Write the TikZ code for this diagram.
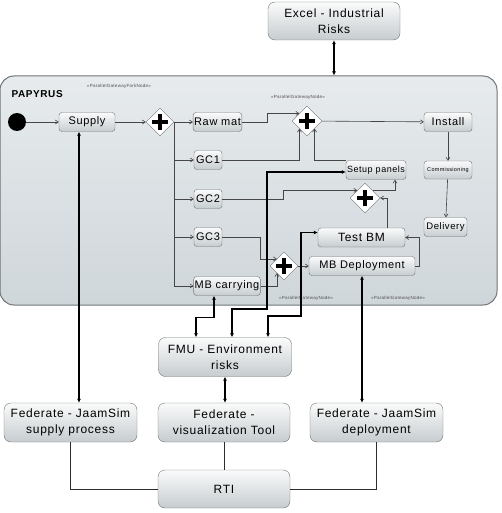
\documentclass[tikz,border=0pt]{standalone}
\usepackage{fontspec}
\setmainfont{Liberation Sans}[LetterSpace=6]
\usetikzlibrary{arrows.meta,shapes.geometric}

\definecolor{boxtop}{HTML}{FAFBFB}
\definecolor{boxbot}{HTML}{C6CCCF}
\definecolor{boxline}{HTML}{6E7478}
\definecolor{frametop}{HTML}{E7EBED}
\definecolor{framebot}{HTML}{CFD6DA}

\begin{document}
\begin{tikzpicture}[x=1pt, y=-1pt,
    act/.style={draw=boxline, rounded corners=3pt, top color=boxtop, bottom color=boxbot,
        minimum height=19pt, inner sep=1pt, font=\fontsize{11}{13}\selectfont},
    fed/.style={draw=boxline, rounded corners=7pt, top color=boxtop, bottom color=boxbot,
        minimum width=133pt, minimum height=39pt, align=center, font=\fontsize{12}{16}\selectfont},
    frame/.style={draw=boxline, line width=1pt, rounded corners=14pt, top color=frametop,
        bottom color=framebot, minimum width=497pt, minimum height=229pt},
    gate/.style={diamond, draw=boxline, fill=white, minimum size=#1, inner sep=0pt,
        path picture={\draw[black, line width=3.4pt]
            ([xshift=-8pt]path picture bounding box.center) -- ([xshift=8pt]path picture bounding box.center)
            ([yshift=-8pt]path picture bounding box.center) -- ([yshift=8pt]path picture bounding box.center);}},
    start/.style={circle, fill=black, minimum size=18pt, inner sep=0pt},
    flow/.style={draw=gray!55!black, line width=0.6pt, -{Straight Barb[length=3pt,width=4pt]}},
    link/.style={draw=black, line width=1.3pt, {Latex[length=4pt,width=4pt]}-{Latex[length=4pt,width=4pt]}},
    wire/.style={draw=gray!35!black, line width=0.6pt},
    stereo/.style={font=\fontsize{4.5}{5}\selectfont, text=gray!60!black, inner sep=0pt}]

    \useasboundingbox (0,0) rectangle (501,513);

    % Frame {papyrus}
    \node [frame]                       (papyrus) at (248.5,190.5) {};
    \node [anchor=west, font=\fontsize{10}{12}\selectfont\bfseries] (title) at (8,94) {PAPYRUS};

    % Nodes inside the frame
    \node [start]                       (init)     at (17,122)    {};
    \node [act, minimum width=56pt]     (supply)   at (87,122)    {Supply};
    \node [gate=28pt]                   (fork)     at (160,122)   {};
    \node [act, minimum width=47pt]     (rawmat)   at (217.5,122) {Raw mat};
    \node [act, minimum width=28pt]     (gc1)      at (208,160)   {GC1};
    \node [act, minimum width=28pt]     (gc2)      at (208,199)   {GC2};
    \node [act, minimum width=28pt]     (gc3)      at (208,237)   {GC3};
    \node [act, minimum width=66pt]     (mbcarry)  at (227,286)   {MB carrying};
    \node [gate=30pt]                   (joinA)    at (307,121)   {};
    \node [act, minimum width=58pt, font=\fontsize{9}{11}\selectfont] (setup) at (376,170) {Setup panels};
    \node [gate=30pt]                   (joinB)    at (365,198)   {};
    \node [act, minimum width=87pt, font=\fontsize{12}{14}\selectfont] (testbm) at (361.5,237.5) {Test BM};
    \node [gate=28pt]                   (joinC)    at (284,266)   {};
    \node [act, minimum width=106pt]    (mbdep)    at (362,266)   {MB Deployment};
    \node [act, minimum width=48pt]     (install)  at (448,122)   {Install};
    \node [act, minimum width=48pt, minimum height=18pt,
           font=\fontsize{5.5}{6}\selectfont] (commis) at (448,170) {Commissioning};
    \node [act, minimum width=43pt, font=\fontsize{9.5}{11}\selectfont] (delivery) at (445.5,227) {Delivery};

    % Stereotypes
    \node [stereo] (stA) at (119,86)  {«ParallelGatewayForkNode»};
    \node [stereo] (stB) at (298,97)  {«ParallelGatewayNode»};
    \node [stereo] (stC) at (306,298) {«ParallelGatewayNode»};
    \node [stereo] (stD) at (398,298) {«ParallelGatewayNode»};

    % Nodes outside the frame
    \node [fed, minimum width=132pt, minimum height=38pt] (excel) at (334,21) {Excel - Industrial\\Risks};
    \node [fed]                         (fmu)      at (225,357)   {FMU - Environment\\risks};
    \node [fed]                         (fedsup)   at (70.5,422.5) {Federate - JaamSim\\supply process};
    \node [fed, minimum width=132pt]    (fedvis)   at (224,422.5) {Federate -\\visualization Tool};
    \node [fed]                         (feddep)   at (376.5,422.5) {Federate - JaamSim\\deployment};
    \node [fed, minimum width=132pt, minimum height=38pt] (rti) at (224,489) {RTI};

    \coordinate (bendA) at (267,309);
    \coordinate (bendB) at (301,316);

    % Paths inside the frame
    \path [flow] (init)    edge (supply);
    \path [flow] (supply)  edge (fork);
    \path [flow] (fork)    edge (rawmat);
    \draw [flow] (fork.east) |- (gc1.west);
    \draw [flow] (fork.east) |- (gc2.west);
    \draw [flow] (fork.east) |- (gc3.west);
    \draw [flow] (fork.east) |- (mbcarry.west);
    \draw [flow] (rawmat.east) -- ++(25,0) |- (joinA.north west);
    \draw [flow] (gc1.east) -| (joinA.south west);
    \draw [flow] (setup.north west) -| (joinA.south east);
    \path [flow] (joinA)   edge (install);
    \draw [flow] (gc2.east) -- ++(61,0) |- (joinB.north west);
    \draw [flow] (joinB.north east) -| ([xshift=19pt]setup.south);
    \draw [flow] ([xshift=26pt]testbm.north) |- (joinB.east);
    \draw [flow] (mbdep.east) -- ++(4,0) |- (testbm.east);
    \draw [flow] (gc3.east) -- ++(38,0) |- (joinC.north west);
    \draw [flow] (mbcarry.east) -| (joinC.south west);
    \path [flow] (joinC)   edge (mbdep);
    \path [flow] (install) edge (commis);
    \path [flow] (commis)  edge (delivery);

    % Paths between the tools
    \draw [link] (excel.south) -- (excel.south |- papyrus.north);
    \draw [link] ([xshift=-8pt]supply.south) -- ([xshift=-8pt]supply.south |- fedsup.north);
    \draw [link] (mbdep.south) -- (mbdep.south |- feddep.north);
    \draw [link] ([xshift=-13pt]mbcarry.south) -- ++(0,22) -| ([xshift=-29pt]fmu.north);
    \draw [link] ([yshift=-2pt]setup.west) -| (bendA) -| ([xshift=7pt]fmu.north);
    \draw [link] ([yshift=5pt]testbm.west) -| (bendB) -| ([xshift=43pt]fmu.north);
    \draw [link] (fmu.south) -- (fmu.south |- fedvis.north);

    % RTI
    \draw [wire] (fedsup.south) |- (rti.west);
    \draw [wire] (fedvis.south) -- (rti.north);
    \draw [wire] (feddep.south) |- (rti.east);
\end{tikzpicture}
\end{document}
